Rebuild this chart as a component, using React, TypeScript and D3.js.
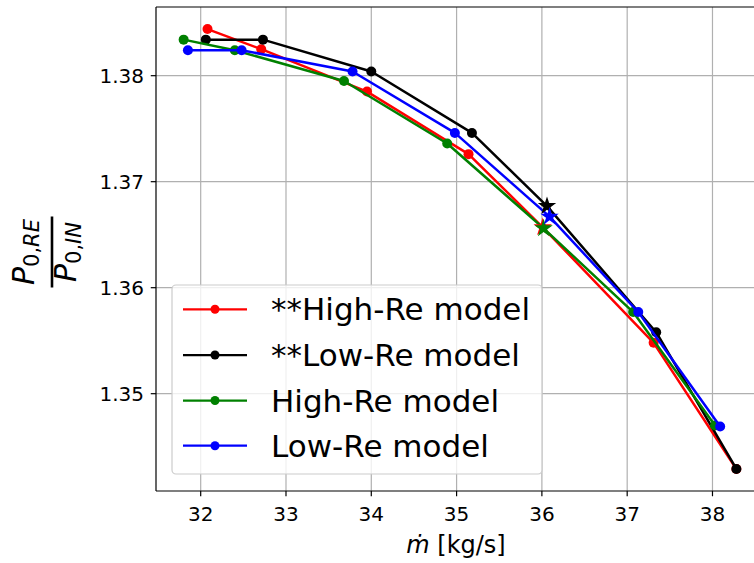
import React from "react";
import * as d3 from "d3";

const seriesNames = ["**High-Re model", "**Low-Re model", "High-Re model", "Low-Re model"];
const seriesColors = ["red", "black", "green", "blue"];

const highReStarX = [32.08, 32.71, 33.95, 35.14, 36.01, 37.31, 38.28];
const highReStarY = [1.3844, 1.3825, 1.3785, 1.3726, 1.3657, 1.3548, 1.3429];
const lowReStarX = [32.06, 32.73, 34.0, 35.18, 36.06, 37.34, 38.28];
const lowReStarY = [1.3834, 1.3834, 1.3804, 1.3746, 1.3677, 1.3558, 1.3429];
const highReX = [31.8, 32.4, 33.68, 34.89, 36.02, 37.07, 38.03];
const highReY = [1.3834, 1.3824, 1.3795, 1.3736, 1.3656, 1.3577, 1.347];
const lowReX = [31.85, 32.48, 33.78, 34.98, 36.09, 37.13, 38.09];
const lowReY = [1.3824, 1.3824, 1.3804, 1.3746, 1.3667, 1.3577, 1.3469];

const starIndex = 4;
const xTicks = [32, 33, 34, 35, 36, 37, 38];
const yTicks = [1.35, 1.36, 1.37, 1.38];

const seriesX = [highReStarX, lowReStarX, highReX, lowReX];
const seriesY = [highReStarY, lowReStarY, highReY, lowReY];

const FONT = "DejaVu Sans";

export default function App() {
  const W = 754;
  const H = 563;
  const left = 156, right = 764, top = 7, bottom = 491;
  const x = d3.scaleLinear().domain([31.476, 38.604]).range([left, right]);
  const y = d3.scaleLinear().domain([1.34082, 1.38648]).range([bottom, top]);
  const line = d3
    .line<[number, number]>()
    .x((d) => x(d[0]))
    .y((d) => y(d[1]));
  const star = d3.symbol().type(d3.symbolStar).size(105)() as string;

  const series = seriesX.map((xs, i) =>
    xs.map((v, j) => [v, seriesY[i][j]] as [number, number])
  );

  const legendRows = [309.3, 355, 400.5, 445.7];

  return (
    <svg
      width={W}
      height={H}
      style={{ position: "absolute", left: 0, top: 0, background: "white" }}
      fontFamily={FONT}
    >
      <rect x={0} y={0} width={W} height={H} fill="white" />
      {/* grid */}
      {xTicks.map((t) => (
        <line key={"gx" + t} x1={x(t)} x2={x(t)} y1={top} y2={bottom} stroke="#b0b0b0" strokeWidth={1.2} />
      ))}
      {yTicks.map((t) => (
        <line key={"gy" + t} x1={left} x2={right} y1={y(t)} y2={y(t)} stroke="#b0b0b0" strokeWidth={1.2} />
      ))}
      {/* series lines and markers */}
      {series.map((pts, i) => (
        <g key={"s" + i}>
          <path d={line(pts) as string} fill="none" stroke={seriesColors[i]} strokeWidth={2.5} strokeLinejoin="round" />
          {pts.map((p, j) =>
            j === starIndex ? null : (
              <circle key={j} cx={x(p[0])} cy={y(p[1])} r={5} fill={seriesColors[i]} />
            )
          )}
        </g>
      ))}
      {series.map((pts, i) => (
        <path
          key={"star" + i}
          d={star}
          transform={`translate(${x(pts[starIndex][0])},${y(pts[starIndex][1])})`}
          fill={seriesColors[i]}
        />
      ))}
      {/* spines */}
      <line x1={left} x2={left} y1={top} y2={bottom} stroke="black" strokeWidth={1.2} />
      <line x1={left} x2={right} y1={bottom} y2={bottom} stroke="black" strokeWidth={1.2} />
      <line x1={left} x2={right} y1={top} y2={top} stroke="black" strokeWidth={1.2} />
      <line x1={right} x2={right} y1={top} y2={bottom} stroke="black" strokeWidth={1.2} />
      {/* x ticks */}
      {xTicks.map((t) => (
        <g key={"xt" + t}>
          <line x1={x(t)} x2={x(t)} y1={bottom} y2={bottom + 5.25} stroke="black" strokeWidth={1.2} />
          <text x={x(t)} y={521} fontSize={20} textAnchor="middle" fill="black">
            {t}
          </text>
        </g>
      ))}
      {/* y ticks */}
      {yTicks.map((t) => (
        <g key={"yt" + t}>
          <line x1={left - 5.25} x2={left} y1={y(t)} y2={y(t)} stroke="black" strokeWidth={1.2} />
          <text x={144} y={y(t) + 7.2} fontSize={20} textAnchor="end" fill="black">
            {t.toFixed(2)}
          </text>
        </g>
      ))}
      {/* x label */}
      <text x={(left + right) / 2 - 4} y={553} fontSize={24} textAnchor="middle" fill="black">
        <tspan fontStyle="italic">ṁ</tspan> [kg/s]
      </text>
      {/* y label: fraction */}
      <g transform="translate(0,252) rotate(-90)">
        <text x={0} y={34} fontSize={30} textAnchor="middle" fill="black">
          <tspan fontStyle="italic">P</tspan>
          <tspan fontSize={21} dy={5}>0,</tspan>
          <tspan fontSize={21} fontStyle="italic">RE</tspan>
        </text>
        <line x1={-35.5} x2={35.5} y1={52} y2={52} stroke="black" strokeWidth={2.6} />
        <text x={0} y={76} fontSize={30} textAnchor="middle" fill="black">
          <tspan fontStyle="italic">P</tspan>
          <tspan fontSize={21} dy={5}>0,</tspan>
          <tspan fontSize={21} fontStyle="italic">IN</tspan>
        </text>
      </g>
      {/* legend */}
      <rect x={172} y={285} width={370} height={189} rx={4} ry={4} fill="white" fillOpacity={0.8} stroke="#cccccc" strokeWidth={1.2} />
      {seriesNames.map((name, i) => (
        <g key={"lg" + i}>
          <line x1={183} x2={247} y1={legendRows[i]} y2={legendRows[i]} stroke={seriesColors[i]} strokeWidth={2.25} />
          <circle cx={215} cy={legendRows[i]} r={4.5} fill={seriesColors[i]} />
          <text x={271} y={legendRows[i] + 11} fontSize={31} fill="black">
            {name}
          </text>
        </g>
      ))}
    </svg>
  );
}
